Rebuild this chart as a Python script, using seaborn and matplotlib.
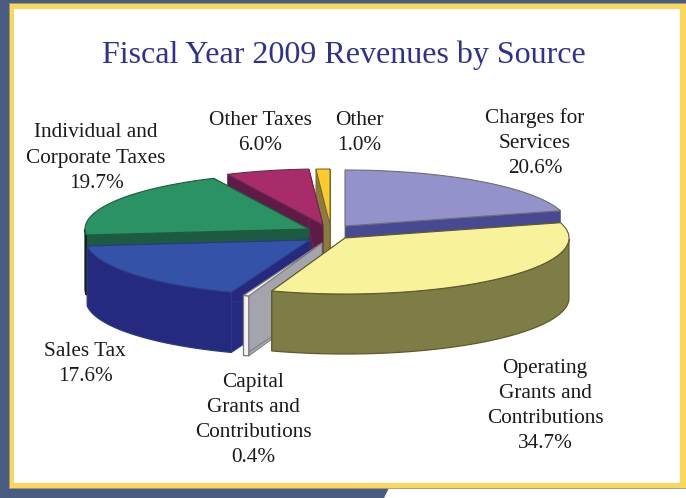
# Fiscal year 2009 revenues by source, drawn as an exploded 3D style pie

import numpy as np
import matplotlib.pyplot as plt
import seaborn as sns
from matplotlib.patches import Polygon, Rectangle

# Values, clockwise from the top of the pie
sources = ["Charges for\nServices", "Operating\nGrants and\nContributions", "Capital\nGrants and\nContributions",
           "Sales Tax", "Individual and\nCorporate Taxes", "Other Taxes", "Other"]
shares = [20.6, 34.7, 0.4, 17.6, 19.7, 6.0, 1.0]

# Slice styling
top_colors = ["#9392CB", "#F8F39A", "#F2F2F2", "#3452A8", "#2B9263", "#A72C69", "#FBCB2C"]
cut_colors = ["#474A92", "#7F7D46", "#A3A4AD", "#25297F", "#1C5B42", "#5F1B45", "#8C7C3C"]
wall_colors = ["#474A92", "#7F7D46", "#F2F2F2", "#25297F", "#15201A", "#5F1B45", "#8C7C3C"]
edge_colors = ["#6E6E70", "#5F5A2C", "#777777", "#2A3A80", "#1C5B42", "#6A2A50", "#7A6A2A"]
wall_edges = ["#474A92", "#5F5A2C", "#777777", "#2A3A80", "#15201A", "#6A2A50", "#7A6A2A"]
slice_centers = [(345, 226), (345, 238), (322, 243), (310, 240), (309, 229), (323, 225), (330, 225)]
draw_order = [0, 6, 5, 4, 3, 2, 1]
radius_x, radius_y, depth = 224, 56, 60

# Label centers in pixels
label_positions = [(535, 143), (545, 406), (253, 420), (85, 364), (96, 158), (260, 133), (359, 133)]


def rim(center, angles):
    return np.column_stack([center[0] + radius_x * np.cos(angles), center[1] - radius_y * np.sin(angles)])


def draw_slice(ax, i, start, stop):
    center = np.array(slice_centers[i], dtype=float)
    down = np.array([0, depth])
    angles = np.radians(np.linspace(start, stop, 120))
    arc = rim(center, angles)

    # Cut faces first, the top covers whatever should stay hidden
    for end in (arc[0], arc[-1]):
        face = [center, end, end + down, center + down]
        ax.add_patch(Polygon(face, fc=cut_colors[i], ec=edge_colors[i], lw=0.6))

    # Outer wall, only the front half of the rim can be seen
    front = arc[np.sin(angles) < 0]
    if len(front) > 1:
        wall = np.vstack([front, (front + down)[::-1]])
        ax.add_patch(Polygon(wall, fc=wall_colors[i], ec=wall_edges[i], lw=0.9))

    top = np.vstack([center, arc])
    ax.add_patch(Polygon(top, fc=top_colors[i], ec=edge_colors[i], lw=0.8))


sns.set_theme(style="white")
plt.rcParams["font.family"] = ["Liberation Serif", "DejaVu Serif"]

fig = plt.figure(figsize=(6.86, 4.98), dpi=100)
ax = fig.add_axes([0, 0, 1, 1])
ax.set_xlim(0, 686)
ax.set_ylim(498, 0)
ax.axis("off")

# Page frame behind the chart
ax.add_patch(Polygon([(0, 0), (686, 0), (686, 488), (389, 488), (384, 498), (0, 498)], fc="#4A5B80", ec="none"))
ax.add_patch(Rectangle((9, 3), 677, 485, fc="#FBD75C", ec="#9A9A80", lw=0.6))
ax.add_patch(Rectangle((14, 9), 666, 474, fc="white", ec="none"))

# Angles come from the shares, clockwise starting at 12 o'clock
edges = 90 - np.cumsum([0] + shares) * 3.6
for i in draw_order:
    draw_slice(ax, i, edges[i], edges[i + 1])

for name, share, (x, y) in zip(sources, shares, label_positions):
    ax.text(x, y, f"{name}\n{share:.1f}%", ha="center", va="center", fontsize=15.3,
            color="#1A1A1A", linespacing=1.43)

ax.text(344, 55, "Fiscal Year 2009 Revenues by Source", ha="center", va="center", fontsize=23, color="#2E3192")

plt.savefig("out.png", dpi=100)
plt.close()
